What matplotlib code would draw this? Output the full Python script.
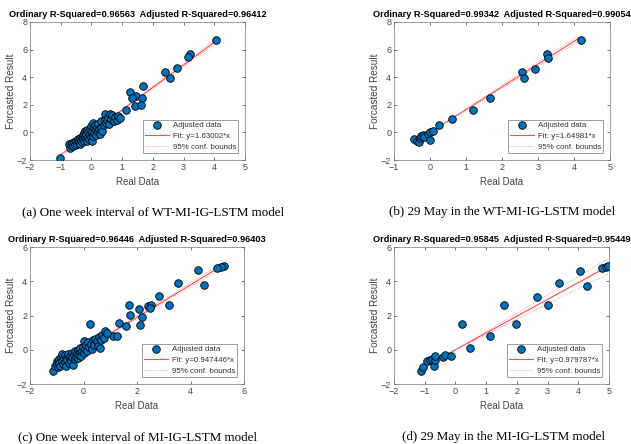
import matplotlib.pyplot as plt
import numpy as np

plt.rcParams['font.family'] = ['Liberation Sans', 'DejaVu Sans']

# (a) one week, WT-MI-IG-LSTM
xa = [4.05, 3.21, 3.16, 2.78, 2.41, 2.56, 1.67, 1.26, 1.45, 1.31, 1.64, 1.42, 1.60, 1.12, -1.02,
      -0.74, -0.70, -0.68, -0.62, -0.60, -0.56, -0.52, -0.50, -0.47, -0.45, -0.42, -0.40, -0.38,
      -0.36, -0.34, -0.32, -0.30, -0.28, -0.27, -0.25, -0.24, -0.22, -0.20, -0.19, -0.17, -0.15,
      -0.14, -0.12, -0.10, -0.08, -0.06, -0.04, -0.02, 0.00, 0.01, 0.03, 0.05, 0.06, 0.08, 0.10,
      0.12, 0.14, 0.16, 0.18, 0.20, 0.22, 0.25, 0.28, 0.30, 0.32, 0.36, 0.40, 0.43, 0.45, 0.48,
      0.52, 0.55, 0.58, 0.62, 0.65, 0.68, 0.72, 0.76, 0.82, 0.88, 0.94]
ya = [6.72, 5.70, 5.44, 4.64, 4.40, 3.96, 3.34, 2.95, 2.66, 2.52, 2.52, 1.94, 1.99, 1.62, -1.83,
      -0.82, -1.10, -0.90, -0.78, -1.00, -0.70, -0.92, -0.60, -0.82, -0.50, -0.72, -0.62, -0.40,
      -0.85, -0.55, -0.30, -0.70, -0.20, -0.48, -0.05, -0.62, -0.35, 0.10, -0.45, -0.15, -0.60,
      0.18, -0.30, 0.05, -0.50, -0.15, 0.25, -0.35, 0.45, -0.60, 0.05, 0.70, -0.25, 0.30, -0.05,
      0.55, 0.15, -0.20, 0.40, 0.00, 0.60, 0.25, -0.10, 0.80, 0.35, 0.10, 0.55, 0.95, 1.30, 0.70,
      0.90, 1.15, 0.60, 1.35, 1.00, 1.25, 0.85, 1.10, 0.90, 1.20, 1.05]

# (b) 29 May, WT-MI-IG-LSTM
xb = [-0.44, -0.36, -0.30, -0.27, -0.25, -0.20, -0.18, -0.05, 0.00, 0.01, 0.09, 0.25, 0.62,
      1.19, 1.66, 2.56, 2.61, 2.91, 3.24, 3.29, 4.19]
yb = [-0.50, -0.62, -0.70, -0.40, -0.28, -0.22, -0.36, -0.10, 0.02, -0.55, 0.10, 0.54, 0.99,
      1.62, 2.47, 4.38, 3.96, 4.62, 5.70, 5.42, 6.72]

# (c) one week, MI-IG-LSTM
xc = [5.25, 5.13, 5.00, 4.27, 4.49, 3.54, 2.82, 3.21, 1.69, 2.07, 2.40, 2.51, 2.49, 1.73, 2.17,
      1.34, 2.11, 1.60, 1.11, 1.24, 0.23,
      -1.13, -1.05, -1.00, -0.98, -0.95, -0.92, -0.90, -0.86, -0.84, -0.82, -0.80, -0.77, -0.74,
      -0.71, -0.68, -0.65, -0.63, -0.60, -0.57, -0.55, -0.52, -0.50, -0.47, -0.44, -0.42, -0.38,
      -0.36, -0.33, -0.30, -0.28, -0.25, -0.22, -0.20, -0.17, -0.14, -0.12, -0.09, -0.06, -0.03,
      0.00, 0.03, 0.06, 0.10, 0.14, 0.18, 0.22, 0.27, 0.31, 0.35, 0.40, 0.44, 0.49, 0.53, 0.57,
      0.62, 0.66, 0.70, 0.75, 0.80, 0.86]
yc = [4.88, 4.83, 4.79, 4.63, 3.76, 3.90, 3.12, 2.60, 2.62, 2.38, 2.55, 2.60, 2.42, 2.02, 1.94,
      1.57, 1.47, 1.38, 0.81, 0.80, 1.53,
      -1.22, -0.95, -0.66, -0.85, -1.00, -0.55, -0.75, -0.92, -0.45, -0.27, -0.65, -0.85, -0.50,
      -0.30, -0.70, -0.95, -0.45, -0.62, -0.25, -0.80, -0.50, -0.35, -0.65, -0.20, -0.45, -0.91,
      -0.30, -0.55, -0.10, -0.40, -0.20, -0.50, 0.00, -0.28, -0.10, 0.10, -0.35, -0.05, 0.15,
      -0.20, 0.50, 0.05, 0.25, -0.05, 0.45, 0.15, 0.35, 0.05, 0.55, 0.30, 0.62, 0.50, 0.20, 0.72,
      0.12, 0.55, 0.85, 0.70, 1.09, 0.95]

# (d) 29 May, MI-IG-LSTM
xd = [-1.12, -1.04, -0.94, -0.82, -0.76, -0.71, -0.67, -0.66, -0.40, -0.33, -0.15, 0.20, 0.48,
      1.13, 1.58, 1.98, 2.67, 3.03, 3.38, 4.07, 4.27, 4.78, 4.90, 4.98]
yd = [-1.24, -1.01, -0.66, -0.62, -0.55, -0.93, -0.60, -0.36, -0.40, -0.30, -0.36, 1.53, 0.11,
      0.79, 2.61, 1.50, 3.10, 2.60, 3.88, 4.60, 3.75, 4.77, 4.82, 4.87]

slopes = [1.63002, 1.64981, 0.947446, 0.979787]
slope_err = [0.04, 0.05, 0.03, 0.09]
titles = ["Ordinary R-Squared=0.96563  Adjusted R-Squared=0.96412",
          "Ordinary R-Squared=0.99342  Adjusted R-Squared=0.99054",
          "Ordinary R-Squared=0.96446  Adjusted R-Squared=0.96403",
          "Ordinary R-Squared=0.95845  Adjusted R-Squared=0.95449"]
fit_labels = ["Fit: y=1.63002*x", "Fit: y=1.64981*x", "Fit: y=0.947446*x", "Fit: y=0.979787*x"]
captions = ["(a) One week interval of WT-MI-IG-LSTM model",
            "(b) 29 May in the WT-MI-IG-LSTM model",
            "(c) One week interval of MI-IG-LSTM model",
            "(d) 29 May in the MI-IG-LSTM model"]
xlims = [(-2, 5), (-1, 5), (-2, 6), (-2, 5)]
ylims = [(-2, 8), (-2, 8), (-2, 6), (-2, 6)]
xsteps = [1, 1, 2, 1]

fig = plt.figure(figsize=(6.31, 4.44), dpi=100)
W, H = 631, 444
# axes boxes in pixels: left, top, right, bottom
boxes = [(30, 22, 245, 160), (394, 22, 610, 160), (30, 247, 244, 384), (394, 247, 609, 384)]
cap_pos = [(153, 212), (502, 212), (137, 437), (503, 437)]

data = [(xa, ya), (xb, yb), (xc, yc), (xd, yd)]
gray = '#444444'
for i in range(4):
    l, t, r, b = boxes[i]
    ax = fig.add_axes([l / W, 1 - b / H, (r - l) / W, (b - t) / H])
    x = np.array(data[i][0])
    y = np.array(data[i][1])
    xx = np.array([x.min(), x.max()])
    ax.scatter(x, y, s=30, c='#0072BD', edgecolors='black', linewidths=0.6, zorder=3,
               label='Adjusted data')
    ax.plot(xx, slopes[i] * xx, color='#ff4a4a', lw=0.8, zorder=2, label=fit_labels[i])
    ax.plot(xx, (slopes[i] + slope_err[i]) * xx, color='#ff8080', lw=0.6, ls=':',
            zorder=2, label='95% conf. bounds')
    ax.plot(xx, (slopes[i] - slope_err[i]) * xx, color='#ff8080', lw=0.6, ls=':', zorder=2)

    ax.set_xlim(xlims[i])
    ax.set_ylim(ylims[i])
    ax.set_xticks(np.arange(xlims[i][0], xlims[i][1] + 0.1, xsteps[i]))
    ax.set_yticks(np.arange(ylims[i][0], ylims[i][1] + 0.1, 2))
    ax.tick_params(direction='in', length=2.5, width=0.5, labelsize=6.5, colors=gray,
                   top=True, right=True, pad=2)
    for sp in ax.spines.values():
        sp.set_linewidth(0.5)
        sp.set_color('#777777')
    ax.set_title(titles[i], fontsize=6.6, fontweight='bold', pad=3.5)
    ax.set_xlabel('Real Data', fontsize=7.0, color=gray, labelpad=3.5)
    ax.set_ylabel('Forcasted Result', fontsize=7.2, color=gray, labelpad=1)
    leg = ax.legend(loc='lower right', fontsize=5.7, frameon=True, fancybox=False,
                    borderaxespad=0.85, handlelength=3.0, labelspacing=0.4,
                    borderpad=0.3, handletextpad=0.5)
    leg.get_frame().set_edgecolor('#555555')
    leg.get_frame().set_linewidth(0.5)
    for txt in leg.get_texts():
        txt.set_color('#333333')

    fig.text(cap_pos[i][0] / W, 1 - cap_pos[i][1] / H, captions[i], ha='center', va='center',
             fontsize=9.4, family=['Liberation Serif', 'DejaVu Serif'])

fig.savefig('out.png', dpi=100)
